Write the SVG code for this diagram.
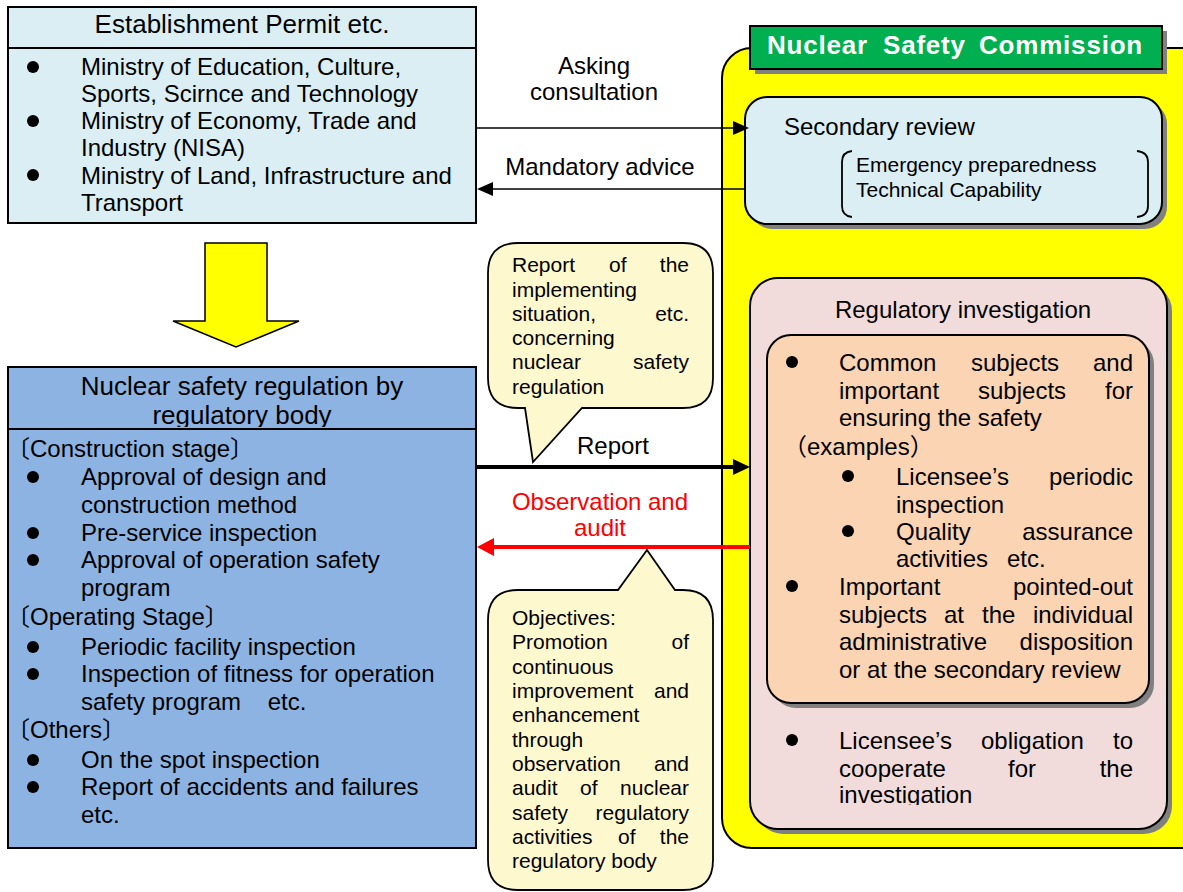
<svg xmlns="http://www.w3.org/2000/svg" width="1183" height="892" viewBox="0 0 1183 892">
<style>
text{font-family:"Liberation Sans",Arial,"Noto Sans CJK JP",sans-serif;fill:#000}
.t26{font-size:26px}
.t24{font-size:24px}
.t21{font-size:21px}
.e{text-anchor:end}
.m{text-anchor:middle}
.box{stroke:#000;stroke-width:2}
.rb{stroke:#000;stroke-width:2}
.sh{fill:#808080}
.call{fill:#FEF8CF;stroke:#000;stroke-width:1.8}
.green{font-size:26px;font-weight:bold;fill:#fff;letter-spacing:0.8px}
circle{fill:#000}
</style>
<defs>
<clipPath id="clipTitle"><rect x="0" y="360" width="480" height="67"/></clipPath>
<clipPath id="clipInv"><rect x="760" y="700" width="400" height="105"/></clipPath>
</defs>
<rect width="1183" height="892" fill="#fff"/>

<!-- Nuclear Safety Commission container -->
<g id="nsc">
<rect x="722" y="48" width="500" height="800" rx="30" fill="#FFFF00" stroke="#000" stroke-width="2"/>
<rect class="sh" x="755" y="31" width="412" height="43"/>
<rect x="750" y="26" width="412" height="43" fill="#00B050" stroke="#000" stroke-width="2"/>
<text class="green" x="767" y="54">Nuclear</text>
<text class="green" x="883" y="54">Safety</text>
<text class="green" x="979" y="54">Commission</text>
</g>

<!-- Establishment permit -->
<g id="permit">
<rect class="box" x="8" y="7" width="468" height="216" fill="#DAEEF3"/>
<line x1="8" y1="48" x2="476" y2="48" stroke="#000" stroke-width="2"/>
<text class="t26 m" x="242" y="33">Establishment Permit etc.</text>
<circle cx="33" cy="67" r="6"/><circle cx="33" cy="121" r="6"/><circle cx="33" cy="175" r="6"/>
<text class="t24" x="81" y="75">Ministry of Education, Culture,</text>
<text class="t24" x="81" y="102">Sports, Scirnce and Technology</text>
<text class="t24" x="81" y="129">Ministry of Economy, Trade and</text>
<text class="t24" x="81" y="156">Industry (NISA)</text>
<text class="t24" x="81" y="184">Ministry of Land, Infrastructure and</text>
<text class="t24" x="81" y="211">Transport</text>
</g>

<!-- Yellow down arrow -->
<g id="downArrow">
<polygon points="205,243 267,243 267,321 299,321 236,347 173,321 205,321" fill="#FFFF00" stroke="#000" stroke-width="1.5"/>
</g>

<!-- Regulatory body -->
<g id="regbody">
<rect class="box" x="8" y="367" width="468" height="481" fill="#8DB3E2"/>
<line x1="8" y1="429" x2="476" y2="429" stroke="#000" stroke-width="2"/>
<g clip-path="url(#clipTitle)">
<text class="t26 m" x="242" y="395">Nuclear safety regulation by</text>
<text class="t26 m" x="242" y="424">regulatory body</text>
</g>
<text class="t24" x="6" y="457">〔Construction stage〕</text>
<circle cx="33" cy="477" r="6"/>
<text class="t24" x="81" y="485">Approval of design and</text>
<text class="t24" x="81" y="513">construction method</text>
<circle cx="33" cy="533" r="6"/>
<text class="t24" x="81" y="541">Pre-service inspection</text>
<circle cx="33" cy="560" r="6"/>
<text class="t24" x="81" y="568">Approval of operation safety</text>
<text class="t24" x="81" y="596">program</text>
<text class="t24" x="6" y="625">〔Operating Stage〕</text>
<circle cx="33" cy="647" r="6"/>
<text class="t24" x="81" y="655">Periodic facility inspection</text>
<circle cx="33" cy="674" r="6"/>
<text class="t24" x="81" y="682">Inspection of fitness for operation</text>
<text class="t24" x="81" y="710" xml:space="preserve">safety program    etc.</text>
<text class="t24" x="6" y="738">〔Others〕</text>
<circle cx="33" cy="760" r="6"/>
<text class="t24" x="81" y="768">On the spot inspection</text>
<circle cx="33" cy="787" r="6"/>
<text class="t24" x="81" y="795">Report of accidents and failures</text>
<text class="t24" x="81" y="823">etc.</text>
</g>

<!-- Secondary review -->
<g id="secondary">
<rect class="sh" x="750" y="102" width="417" height="127" rx="22"/>
<rect class="rb" x="745" y="97" width="417" height="127" rx="22" fill="#DAEEF3"/>
<text class="t24" x="784" y="135">Secondary review</text>
<path d="M852,151 Q842,152 842,162 L842,206 Q842,216 852,217" fill="none" stroke="#000" stroke-width="1.8"/>
<path d="M1137,151 Q1148,152 1148,162 L1148,206 Q1148,216 1137,217" fill="none" stroke="#000" stroke-width="1.8"/>
<text class="t21" x="856" y="172">Emergency preparedness</text>
<text class="t21" x="856" y="197">Technical Capability</text>
</g>

<!-- Regulatory investigation -->
<g id="investigation">
<rect class="sh" x="755" y="283" width="417" height="551" rx="28"/>
<rect class="rb" x="750" y="278" width="417" height="551" rx="28" fill="#F2DCDB"/>
<text class="t24 m" x="963" y="318">Regulatory investigation</text>
<rect class="sh" x="772" y="340" width="382" height="368" rx="24"/>
<rect class="rb" x="767" y="335" width="382" height="368" rx="24" fill="#FBD4B4"/>
<circle cx="792" cy="362" r="6"/>
<text class="t24" x="839" y="371">Common</text><text class="t24" x="971" y="371">subjects</text><text class="t24 e" x="1133" y="371">and</text>
<text class="t24" x="839" y="399">important</text><text class="t24" x="978" y="399">subjects</text><text class="t24 e" x="1133" y="399">for</text>
<text class="t24" x="839" y="426">ensuring the safety</text>
<text class="t24" x="783" y="455">（examples）</text>
<circle cx="848" cy="476" r="6"/>
<text class="t24" x="896" y="485">Licensee’s</text><text class="t24 e" x="1133" y="485">periodic</text>
<text class="t24" x="896" y="513">inspection</text>
<circle cx="848" cy="531" r="6"/>
<text class="t24" x="896" y="540">Quality</text><text class="t24 e" x="1133" y="540">assurance</text>
<text class="t24" x="896" y="567">activities</text><text class="t24" x="1007" y="567">etc.</text>
<circle cx="792" cy="586" r="6"/>
<text class="t24" x="839" y="595">Important</text><text class="t24 e" x="1133" y="595">pointed-out</text>
<text class="t24" x="839" y="623">subjects</text><text class="t24" x="944" y="623">at</text><text class="t24" x="982" y="623">the</text><text class="t24 e" x="1133" y="623">individual</text>
<text class="t24" x="839" y="650">administrative</text><text class="t24 e" x="1133" y="650">disposition</text>
<text class="t24" x="839" y="678">or at the secondary review</text>
<circle cx="792" cy="740" r="6"/>
<text class="t24" x="839" y="749">Licensee’s</text><text class="t24" x="981" y="749">obligation</text><text class="t24 e" x="1133" y="749">to</text>
<text class="t24" x="839" y="777">cooperate</text><text class="t24" x="1008" y="777">for</text><text class="t24 e" x="1133" y="777">the</text>
<g clip-path="url(#clipInv)"><text class="t24" x="839" y="803">investigation</text></g>
</g>

<!-- Callout: report -->
<g id="calloutReport">
<path class="call" d="M518,243 L683,243 Q713,243 713,273 L713,378 Q713,408 683,408 L582,408 L533,462 L525,408 L518,408 Q488,408 488,378 L488,273 Q488,243 518,243 Z"/>
<text class="t21" x="512" y="272">Report</text><text class="t21" x="609" y="272">of</text><text class="t21 e" x="689" y="272">the</text>
<text class="t21" x="512" y="297">implementing</text>
<text class="t21" x="512" y="321">situation,</text><text class="t21 e" x="689" y="321">etc.</text>
<text class="t21" x="512" y="345">concerning</text>
<text class="t21" x="512" y="369">nuclear</text><text class="t21 e" x="689" y="369">safety</text>
<text class="t21" x="512" y="394">regulation</text>
</g>

<!-- Callout: objectives -->
<g id="calloutObjectives">
<path class="call" d="M518,590 L618,590 L647,550 L675,590 L683,590 Q713,590 713,620 L713,860 Q713,890 683,890 L518,890 Q488,890 488,860 L488,620 Q488,590 518,590 Z"/>
<text class="t21" x="512" y="625">Objectives:</text>
<text class="t21" x="512" y="649">Promotion</text><text class="t21 e" x="689" y="649">of</text>
<text class="t21" x="512" y="674">continuous</text>
<text class="t21" x="512" y="698">improvement</text><text class="t21 e" x="689" y="698">and</text>
<text class="t21" x="512" y="722">enhancement</text>
<text class="t21" x="512" y="747">through</text>
<text class="t21" x="512" y="771">observation</text><text class="t21 e" x="689" y="771">and</text>
<text class="t21" x="512" y="795">audit</text><text class="t21" x="580" y="795">of</text><text class="t21 e" x="689" y="795">nuclear</text>
<text class="t21" x="512" y="820">safety</text><text class="t21 e" x="689" y="820">regulatory</text>
<text class="t21" x="512" y="844">activities</text><text class="t21" x="618" y="844">of</text><text class="t21 e" x="689" y="844">the</text>
<text class="t21" x="512" y="868">regulatory body</text>
</g>

<!-- Connectors -->
<g id="connectors">
<line x1="476" y1="128" x2="736" y2="128" stroke="#000" stroke-width="1.6"/>
<polygon points="749,128 733,121 733,135" fill="#000"/>
<line x1="745" y1="189" x2="490" y2="189" stroke="#000" stroke-width="1.6"/>
<polygon points="477,189 493,182 493,196" fill="#000"/>
<line x1="476" y1="467" x2="736" y2="467" stroke="#000" stroke-width="4"/>
<polygon points="750,467 733,459 733,475" fill="#000"/>
<line x1="750" y1="547" x2="490" y2="547" stroke="#FF0000" stroke-width="4"/>
<polygon points="477,547 494,538 494,556" fill="#FF0000"/>
<text class="t24 m" x="594" y="74">Asking</text>
<text class="t24 m" x="594" y="100">consultation</text>
<text class="t24 m" x="600" y="175">Mandatory advice</text>
<text class="t24 m" x="613" y="454">Report</text>
<text class="t24 m" x="600" y="510" style="fill:#FF0000">Observation and</text>
<text class="t24 m" x="600" y="536" style="fill:#FF0000">audit</text>
</g>
</svg>
